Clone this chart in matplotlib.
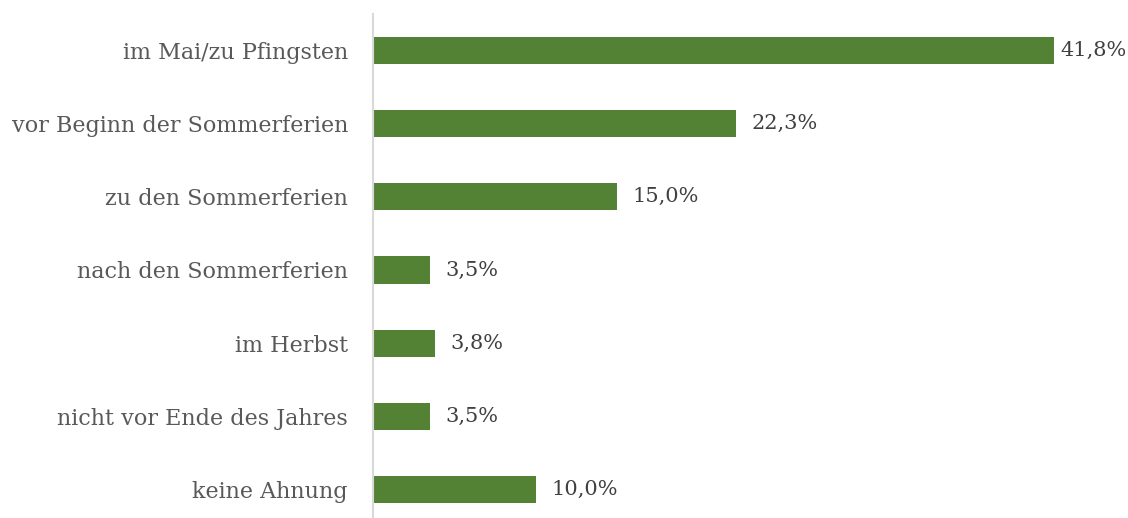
import matplotlib
matplotlib.use("Agg")
import matplotlib.pyplot as plt

categories = [
    "im Mai/zu Pfingsten",
    "vor Beginn der Sommerferien",
    "zu den Sommerferien",
    "nach den Sommerferien",
    "im Herbst",
    "nicht vor Ende des Jahres",
    "keine Ahnung",
]
values = [41.8, 22.3, 15.0, 3.5, 3.8, 3.5, 10.0]

BAR_COLOR = "#548235"
LABEL_COLOR = "#595959"
VALUE_COLOR = "#404040"

plt.rcParams["font.family"] = ["DejaVu Serif"]

fig = plt.figure(figsize=(11.28, 5.18), dpi=100)
ax = fig.add_axes([373 / 1128, -8 / 518, 755 / 1128, 512 / 518])

ypos = list(range(len(categories)))
ax.barh(ypos, values, height=0.37, color=BAR_COLOR, left=0)
ax.set_ylim(len(categories) - 0.5, -0.5)
ax.set_xlim(0, 755 / 16.29)

ax.set_yticks(ypos)
ax.set_yticklabels(categories, fontsize=16, color=LABEL_COLOR)
ax.tick_params(axis="y", length=0, pad=18)
ax.set_xticks([])

for side in ("top", "right", "bottom"):
    ax.spines[side].set_visible(False)
ax.spines["left"].set_color("#d9d9d9")
ax.spines["left"].set_linewidth(1.5)

# value labels; the longest bar gets a tighter gap so it stays inside the figure
for y, v in zip(ypos, values):
    pad = 5 if v > 40 else 11
    ax.annotate(f"{v:.1f}%".replace(".", ","), (v, y), xytext=(pad, 0),
                textcoords="offset points", va="center", ha="left",
                fontsize=15, color=VALUE_COLOR)

fig.savefig("out.png", dpi=100)
